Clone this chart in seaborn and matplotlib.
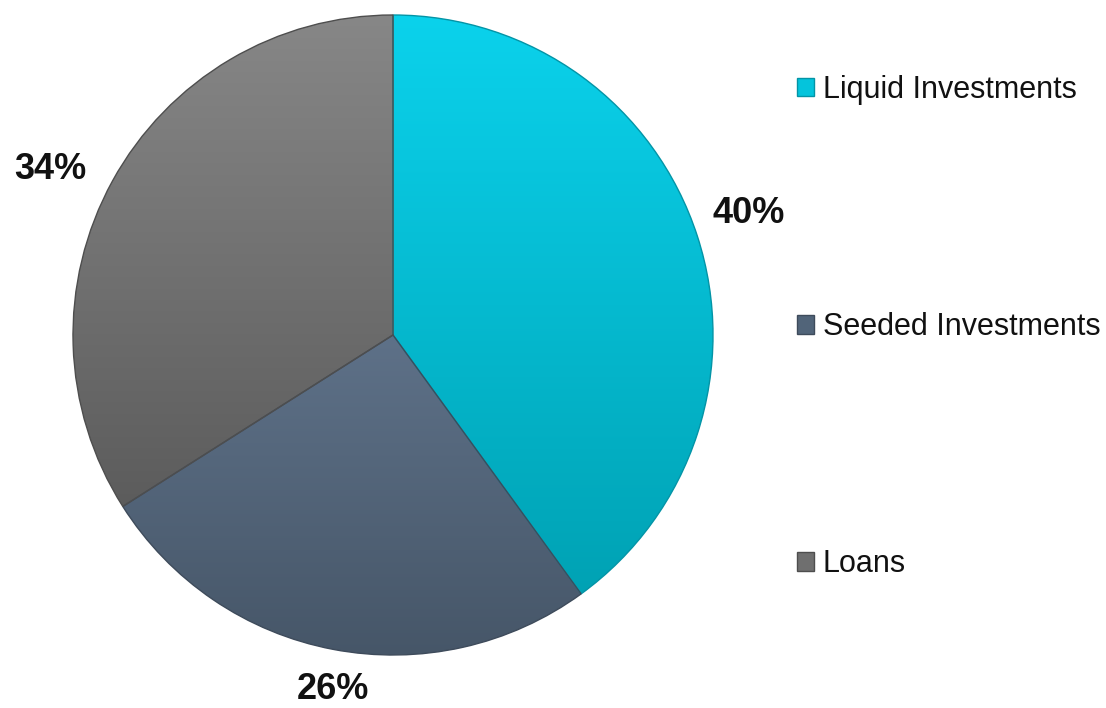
import numpy as np
import matplotlib
matplotlib.use("Agg")
import matplotlib.pyplot as plt
import seaborn as sns
from matplotlib.patches import Patch
from matplotlib.colors import LinearSegmentedColormap

categories = ["Liquid Investments", "Seeded Investments", "Loans"]
shares = [40, 26, 34]
pct_labels = ["40%", "26%", "34%"]

# (top, bottom) shade of each slice's vertical gradient
shade_top = ["#0BD2EC", "#5E7188", "#878787"]
shade_bottom = ["#00A2B4", "#465668", "#5C5C5C"]
colors = ["#04C4DC", "#516479", "#6F6F6F"]
edge_colors = ["#0394A6", "#3E4B5B", "#4E4E4E"]
label_radius = [1.176, 1.125, 1.19]
label_nudge = [0.9, 1.2, 3.1]   # degrees, fine placement of the % labels

sns.set_theme(style="white")
plt.rcParams["font.family"] = ["Liberation Sans", "DejaVu Sans"]

W, H = 1106, 708
fig = plt.figure(figsize=(W / 100, H / 100), dpi=100)
cx, cy, r = 393, 335, 320
ax = fig.add_axes([(cx - r) / W, (H - cy - r) / H, 2 * r / W, 2 * r / H])

wedges, _ = ax.pie(
    shares,
    colors=colors,
    startangle=90,
    counterclock=False,
    radius=1.0,
    wedgeprops=dict(linewidth=1.0),
)

# vertical gradient fill, clipped to each wedge
for w, top, bot, ec in zip(wedges, shade_top, shade_bottom, edge_colors):
    verts = w.get_path().vertices
    ymin, ymax = verts[:, 1].min(), verts[:, 1].max()
    cmap = LinearSegmentedColormap.from_list("g", [bot, top])
    grad = np.linspace(0, 1, 256).reshape(-1, 1)
    im = ax.imshow(grad, cmap=cmap, origin="lower", aspect="auto",
                   extent=(-1.01, 1.01, ymin, ymax), zorder=w.get_zorder() + 0.1,
                   interpolation="bilinear")
    im.set_clip_path(w)
    w.set_edgecolor(ec)
    w.set_facecolor("none")
    w.set_zorder(w.get_zorder() + 0.2)

# percentage labels outside each wedge
total = sum(shares)
start = 90.0
for val, lab, lr, nd in zip(shares, pct_labels, label_radius, label_nudge):
    span = 360.0 * val / total
    mid = np.deg2rad(start - span / 2 + nd)
    ax.text(lr * np.cos(mid), lr * np.sin(mid), lab, ha="center", va="center",
            fontsize=26, fontweight="bold", color="#111111")
    start -= span

ax.set_xlim(-1, 1)
ax.set_ylim(-1, 1)
ax.set_aspect("equal")
ax.axis("off")

handles = [Patch(facecolor=c, edgecolor=e, linewidth=1.0) for c, e in zip(colors, edge_colors)]
fig.legend(handles, categories, loc="upper left", bbox_to_anchor=(797 / W, 1 - 75 / H),
           frameon=False, fontsize=22, labelspacing=6.78, handlelength=0.55,
           handleheight=0.55, handletextpad=0.3, borderpad=0, borderaxespad=0,
           labelcolor="#111111")

fig.savefig("out.png", dpi=100, facecolor="white")
